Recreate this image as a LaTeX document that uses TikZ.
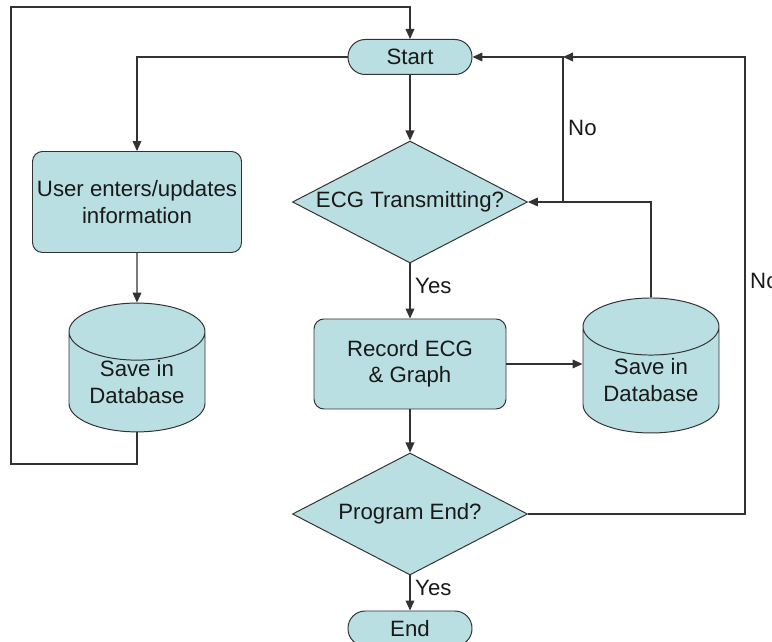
\documentclass[tikz,border=0pt]{standalone}
\usepackage{fontspec}
\setmainfont{Liberation Sans}
\usetikzlibrary{shapes.geometric,arrows.meta}

\definecolor{boxfill}{RGB}{185,223,227}
\definecolor{boxline}{RGB}{50,50,50}
\definecolor{txt}{RGB}{25,25,25}

\tikzset{
  every node/.style={font=\fontsize{15.8}{18.8}\selectfont, text=txt, align=center},
  terminal/.style={draw=boxline, fill=boxfill, line width=0.7pt, rounded corners=0.43cm,
    minimum width=3.1cm, minimum height=0.875cm, inner sep=0pt},
  process/.style={draw=boxline, fill=boxfill, line width=0.7pt, rounded corners=0.25cm,
    inner sep=0pt},
  decision/.style={draw=boxline, fill=boxfill, line width=0.7pt, diamond, inner sep=0pt,
    minimum width=5.875cm, minimum height=3.05cm},
  database/.style={draw=boxline, fill=boxfill, line width=0.7pt, cylinder,
    shape border rotate=90, aspect=0.6, inner sep=0pt},
  flow/.style={draw=boxline, line width=0.75pt, -{Triangle[length=0.25cm,width=0.22cm]}},
  link/.style={draw=boxline, line width=0.75pt}
}

\begin{document}
\begin{tikzpicture}
  \useasboundingbox (0,0) rectangle (19.3,16.05);

  % Nodes
  \node[terminal] (Start) at (10.25, 14.625) {Start};
  \node[decision] (Transmitting) at (10.25, 11.0) {\makebox[0pt]{ECG Transmitting?}};
  \node[process, minimum width=5.225cm, minimum height=2.525cm] (UserInput) at (3.425, 11.0)
    {User enters/updates\\information};
  \node[database, minimum width=3.4cm, minimum height=3.125cm] (SaveUser) at (3.425, 6.5)
    {Save in\\Database};
  \node[process, minimum width=4.8cm, minimum height=2.25cm] (Record) at (10.25, 6.95)
    {Record ECG\\\& Graph};
  \node[database, minimum width=3.4cm, minimum height=3.375cm] (SaveECG) at (16.275, 6.55)
    {Save in\\Database};
  \node[decision] (ProgEnd) at (10.25, 3.2) {\makebox[0pt]{Program End?}};
  \node[terminal] (End) at (10.25, 0.3375) {End};

  % Corners of the outer loops
  \coordinate (LoopBottom) at (0.275, 4.45);
  \coordinate (LoopTop) at (0.275, 15.875);
  \coordinate (NoBranch) at (14.075, 11.0);
  \coordinate (EndBranch) at (18.625, 14.625);

  % Arrows
  \draw[flow] (Start) -- (Transmitting);
  \draw[flow] (Start.west) -| (UserInput.north);
  \draw[flow] (UserInput) -- (SaveUser);
  \draw[flow] (SaveUser.south) |- (LoopBottom) -- (LoopTop) -| (Start.north);
  \draw[flow] (Transmitting) -- node[pos=0.4, right] {Yes} (Record);
  \draw[flow] (Record) -- (Record -| SaveECG.west);
  \draw[flow] (SaveECG.north) |- (Transmitting.east);
  \draw[flow] (NoBranch) |- node[pos=0.255, right] {No} (Start.east);
  \draw[flow] (Record) -- (ProgEnd);
  \draw[flow] (ProgEnd) -- node[pos=0.36, right] {Yes} (End);
  \draw[flow] (ProgEnd.east) -| node[pos=0.755, right] {No} (EndBranch) -- (NoBranch |- Start.east);
\end{tikzpicture}
\end{document}
